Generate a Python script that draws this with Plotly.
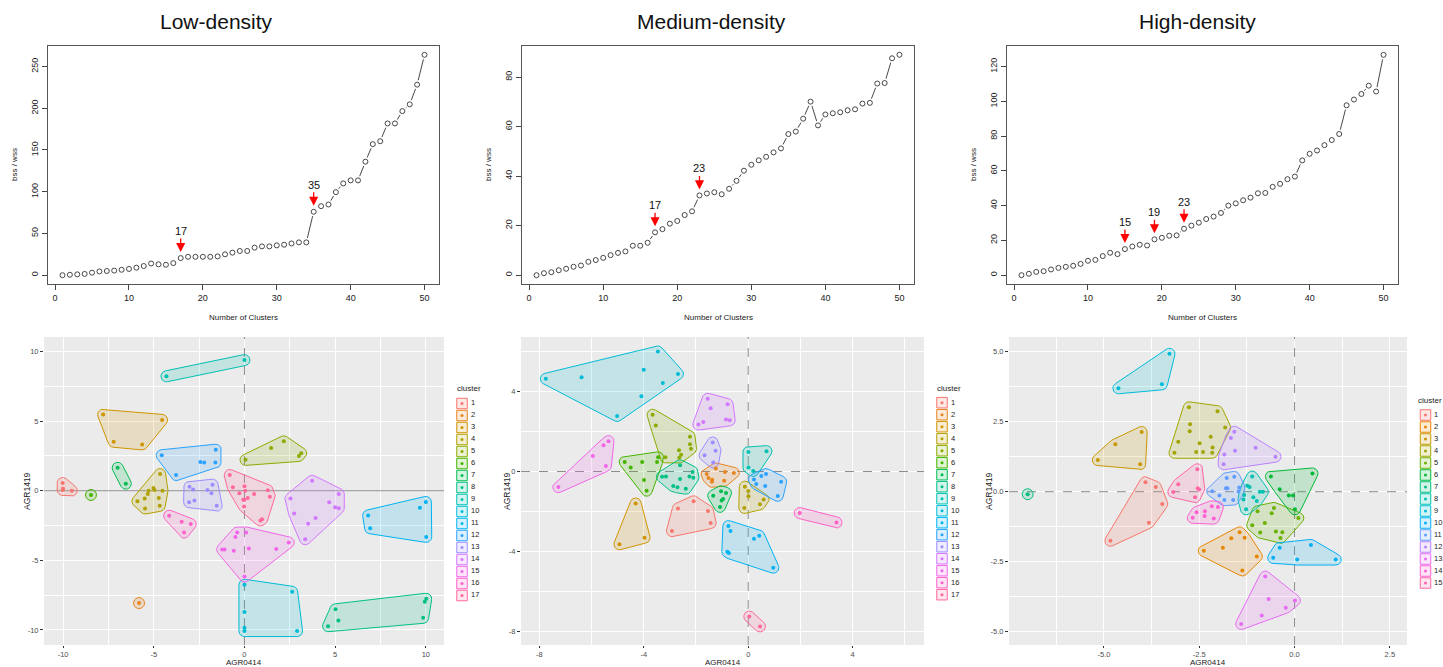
import math
import plotly.graph_objects as go

W, H = 1443, 667
FONT = "Liberation Sans, Arial, sans-serif"

# ---------------- data: elbow curves ----------------
n_clusters = list(range(1, 51))
low_ratio = [0, 0.5, 1, 1.5, 3, 4.5, 5, 5.5, 6.5, 7.5,
             9, 11, 14, 13, 12.5, 14.5, 20.5, 22, 22, 22,
             22, 22.5, 25, 27, 29, 29, 33, 34.5, 34.5, 35.7,
             36.5, 38, 39.3, 39.3, 76, 82.7, 84.7, 99.5, 110, 113.6,
             113.6, 136, 157, 160.5, 181.8, 181.8, 196.6, 204.7, 228.3, 264]
med_ratio = [0, 0.8, 1.2, 2, 2.6, 3.4, 3.9, 5.4, 6.1, 7,
             8.1, 9, 9.6, 11.9, 11.9, 13.1, 17.3, 18.6, 20.8, 21.9,
             24.3, 25.8, 32.2, 33, 33.5, 32.7, 34.9, 38.1, 42.2, 44.6,
             46.4, 47.8, 49.6, 51.2, 57, 58, 63.2, 70.1, 60.5, 64.9,
             65.4, 65.8, 66.6, 67, 69.3, 69.6, 77.4, 77.6, 87.6, 89]
high_ratio = [0, 0.8, 1.9, 2.3, 3.3, 4.2, 4.8, 5.4, 6.5, 8.3,
              8.8, 11, 12.9, 12.1, 15, 16.5, 17.5, 17.1, 20.6, 21.5,
              22.7, 22.9, 26.7, 28.5, 30.2, 32.3, 33.7, 35.8, 40, 41.3,
              43.1, 44.6, 47.1, 47.3, 50.8, 52.5, 55.2, 56.7, 66, 69.8,
              71.7, 74.8, 77.7, 81.2, 97.7, 101, 104.2, 109, 105.6, 126.7]
low_marks = [17, 35]
med_marks = [17, 23]
high_marks = [15, 19, 23]
panel_titles = ["Low-density", "Medium-density", "High-density"]
low_ratio_ticks = [0, 50, 100, 150, 200, 250]
med_ratio_ticks = [0, 20, 40, 60, 80]
high_ratio_ticks = [0, 20, 40, 60, 80, 100, 120]
elbow_xticks = [0, 10, 20, 30, 40, 50]

# ---------------- data: cluster maps (one sublist per cluster) ----------------
low_x = [[-10.02, -10.0, -10.02, -9.52], [-5.81], [-7.79, -7.21, -5.64, -4.54],
         [-4.65, -5.02, -4.96, -5.28, -5.33, -4.52, -4.72, -5.9, -5.5, -4.67, -5.48],
         [0.06, 1.47, 2.17, 3.0, 3.13], [-8.46], [-6.99, -6.54],
         [4.61, 5.02, 5.18, 9.85, 9.94, 10.02], [-4.3, 0.0], [0, 0, 0, 0, 2.63, 2.9],
         [6.82, 6.93, 9.67, 10.0, 10.02], [-4.56, -3.77, -2.43, -2.22, -1.6, -1.58],
         [-3.03, -2.83, -2.04, -1.76, -1.82, -2.76, -3.05, -1.53],
         [2.54, 2.74, 3.73, 3.35, 3.51, 3.92, 4.67, 5.0, 5.2, 5.2],
         [-0.4, -0.5, 0.09, -1.23, -1.1, -0.59, 0.24, 1.75, 2.44, 0.0],
         [-4.15, -3.46, -2.96, -3.33],
         [-0.81, -0.64, 0.0, 0.04, -0.28, 0.18, 0.53, 1.29, 1.4, -0.07, 0.0, -0.02, 0.88, 0.97]]
low_y = [[0.55, 0.15, 0.05, 0.0], [-8.07], [5.46, 3.51, 3.32, 5.08],
         [1.19, 0.19, 0.05, 0.0, -0.24, 0.0, -0.52, -0.76, -0.57, -1.09, -1.28],
         [2.21, 3.06, 3.54, 2.49, 2.68], [-0.31], [1.64, 0.5],
         [-9.73, -8.52, -9.32, -9.13, -7.97, -7.76], [8.21, 9.37], [-6.76, -8.71, -9.85, -10.08, -7.26, -10.08],
         [-1.78, -2.7, -1.23, -0.81, -3.32], [2.54, 1.12, 2.06, 2.02, 2.02, 2.94],
         [0.28, 0.09, 0.05, 0.43, -0.19, -0.71, -0.83, -1.09],
         [-0.57, -1.64, 0.71, -3.49, -2.37, -1.97, -0.83, -1.19, -1.26, -0.24],
         [-3.01, -3.32, -3.01, -4.22, -4.22, -4.32, -4.15, -4.18, -3.72, -6.17],
         [-1.8, -2.23, -2.4, -3.01],
         [1.12, 0.24, 0.31, 0.0, -0.19, -0.52, -0.24, 0.02, -0.43, -0.66, -0.66, -1.14, -2.14, -2.06]]

med_x = [[-2.92, -2.69, -2.09, -1.54, -1.44],
         [-1.59, -1.52, -1.39, -1.38, -1.24, -0.89, -0.92, -0.55],
         [-4.93, -4.31, -3.97],
         [-0.13, 0.0, 0.01, -0.15, 0.45, 0.59],
         [-3.66, -3.54, -3.17, -2.65, -2.57, -2.64, -2.23, -2.23, -2.19],
         [-4.73, -4.5, -4.06, -3.99, -3.89, -3.49, -3.45],
         [-1.34, -1.04, -0.85, -1.02, -0.96, -1.08],
         [-3.3, -3.15, -2.87, -2.71, -2.61, -2.61, -2.39, -2.25, -2.13, -2.10],
         [0.01, 0.01, 0.19, 0.7],
         [-7.75, -6.38, -5.02, -4.09, -4.0, -3.46, -3.27, -2.69],
         [-0.76, -0.68, -0.8, -0.74, 0.22, 0.42, 0.96],
         [0.22, 0.31, 0.5, 0.65, 0.68, 1.13, 1.26],
         [-1.67, -1.36, -1.25, -1.34],
         [-1.91, -1.72, -1.55, -1.44, -0.79, -0.85, -0.71],
         [-7.27, -5.95, -5.54, -5.45, -5.35],
         [1.97, 3.38],
         [0.04, 0.45]]
med_y = [[-2.98, -1.85, -1.49, -1.97, -2.58],
         [-0.13, -0.33, -0.51, -0.41, 0.15, -0.03, -0.46, -0.07],
         [-3.64, -1.6, -3.31],
         [-0.76, -0.98, -1.24, -1.82, -1.64, -1.4],
         [2.84, 2.3, 0.71, 1.06, 0.84, 0.69, 1.74, 1.36, 1.14],
         [0.48, 0.2, 0.48, -0.43, -0.96, 0.48, 0.71],
         [-1.21, -0.99, -1.07, -1.45, -1.37, -1.77],
         [-0.26, -0.25, -0.73, -0.79, 0.31, -0.38, -0.86, -0.25, -0.02, -0.31],
         [0.98, 0.2, 0.03, 1.02],
         [4.64, 4.71, 2.78, 3.77, 5.09, 6.0, 4.43, 4.88],
         [-2.73, -2.98, -4.02, -4.08, -3.36, -3.22, -4.81],
         [-0.4, -0.63, -0.23, -0.73, -0.13, -1.22, -0.51],
         [0.81, 1.45, 1.04, 0.45],
         [2.35, 2.48, 3.64, 3.17, 3.37, 2.6, 2.56],
         [-0.78, 0.78, 1.31, 0.28, 1.52],
         [-2.08, -2.55],
         [-7.26, -7.75]]

high_x = [[-4.83, -3.91, -3.82, -3.64, -3.47],
          [-2.38, -1.88, -1.66, -1.44, -1.31, -0.99, -1.37],
          [-5.16, -4.7, -4.05, -4.01],
          [-3.15, -3.05, -2.77, -2.75, -2.74, -2.58, -2.49, -2.4, -2.2, -2.16, -2.15, -2.02, -1.82],
          [-0.97, -0.6, -0.54, -1.11, -0.78, -0.9, -0.49, -0.32, -0.37, 0.1],
          [-0.62, 0.47, -0.39, -0.15, -0.04, 0.01],
          [-7.0],
          [-1.24, -1.18, -1.11, -1.32, -1.34, -1.27, -1.08, -0.99, -0.91, -0.83],
          [-4.62, -3.48, -3.28],
          [-0.39, 0.43, -0.56, 0.07, 1.08],
          [-1.78, -1.58, -1.45, -1.8, -1.76, -2.16, -1.97, -1.84, -1.61, -1.47],
          [-1.86, -1.84, -1.67, -1.58, -1.56, -1.02, -0.5],
          [-1.4, -0.86, -0.77, -0.68, -0.23, 0.01],
          [-2.57, -2.35, -2.17, -2.01, -2.67, -2.36, -2.12],
          [-2.55, -3.05, -3.18, -2.54, -2.5, -2.61]]
high_y = [[-1.75, 0.34, -1.11, 0.17, -0.44],
          [-2.11, -2.0, -1.66, -1.45, -1.64, -2.31, -2.81],
          [1.13, 1.69, 0.98, 2.13],
          [1.39, 1.78, 3.01, 2.16, 2.41, 1.42, 1.73, 1.42, 1.96, 1.39, 1.58, 2.87, 2.29],
          [-0.7, -0.77, -0.58, -1.2, -1.12, -1.46, -1.42, -1.45, -1.65, -0.94],
          [0.54, 0.65, 0.09, -0.14, -0.14, -0.63],
          [-0.09],
          [0.21, 0.17, 0.54, -0.12, -0.28, -0.63, -0.2, -0.33, 0.0, 0.0],
          [3.69, 3.83, 4.92],
          [-2.0, -1.9, -2.36, -2.42, -2.42],
          [0.49, 0.53, 0.15, 0.12, 0.12, 0.02, -0.14, -0.3, -0.3, 0.01],
          [0.98, 1.33, 1.92, 2.14, 1.46, 1.57, 1.25],
          [-4.72, -4.42, -3.03, -3.83, -4.14, -3.88],
          [-0.73, -0.7, -0.52, -0.55, -0.93, -0.87, -0.96],
          [0.8, 0.27, -0.01, 0.12, 0.08, -0.2]]

low_map_ticks = [-10, -5, 0, 5, 10]
low_map_ticktext = ["-10", "-5", "0", "5", "10"]
med_map_ticks = [-8, -4, 0, 4]
med_map_ticktext = ["-8", "-4", "0", "4"]
high_map_xticks = [-5, -2.5, 0, 2.5]
high_map_xticktext = ["-5.0", "-2.5", "0.0", "2.5"]
high_map_yticks = [-5, -2.5, 0, 2.5, 5]
high_map_yticktext = ["-5.0", "-2.5", "0.0", "2.5", "5.0"]

# ---------------- layout geometry (pixels) ----------------
TOP_X = [(48, 439), (522, 914), (1007, 1398)]
TOP_Y = (46, 284)
BOT_X = [(44, 444), (521, 924), (1009, 1407)]
BOT_Y = (337, 645)
TOP_XR = [-0.96, 51.96]
TOP_YR = [[-10.56, 274.6], [-3.56, 92.56], [-5.07, 131.8]]
BOT_XR = [[-11.05, 11.0], [-8.7, 6.73], [-7.49, 2.95]]
BOT_YR = [[-11.08, 11.03], [-8.68, 6.73], [-5.47, 5.52]]


def hcl_hex(h, c=100.0, l=65.0):
    hr = math.radians(h)
    u, v = c * math.cos(hr), c * math.sin(hr)
    Xn, Yn, Zn = 95.047, 100.0, 108.883
    un = 4 * Xn / (Xn + 15 * Yn + 3 * Zn)
    vn = 9 * Yn / (Xn + 15 * Yn + 3 * Zn)
    Y = Yn * ((l + 16) / 116) ** 3 if l > 8 else Yn * l / 903.3
    up = u / (13 * l) + un
    vp = v / (13 * l) + vn
    X = Y * 9 * up / (4 * vp)
    Z = Y * (12 - 3 * up - 20 * vp) / (4 * vp)
    X, Y, Z = X / 100, Y / 100, Z / 100
    r = 3.2404542 * X - 1.5371385 * Y - 0.4985314 * Z
    g = -0.9692660 * X + 1.8760108 * Y + 0.0415560 * Z
    b = 0.0556434 * X - 0.2040259 * Y + 1.0572252 * Z

    def gam(t):
        t = 12.92 * t if t <= 0.0031308 else 1.055 * t ** (1 / 2.4) - 0.055
        return int(round(min(max(t, 0), 1) * 255))
    return (gam(r), gam(g), gam(b))


def hue_pal(n):
    return [hcl_hex(15 + 360 * i / n) for i in range(n)]


def rgb(c, a=None):
    if a is None:
        return "rgb(%d,%d,%d)" % c
    return "rgba(%d,%d,%d,%.3f)" % (c[0], c[1], c[2], a)


def convex_hull(pts):
    pts = sorted(set(pts))
    if len(pts) <= 2:
        return pts

    def cross(o, a, b):
        return (a[0] - o[0]) * (b[1] - o[1]) - (a[1] - o[1]) * (b[0] - o[0])
    lower, upper = [], []
    for p in pts:
        while len(lower) >= 2 and cross(lower[-2], lower[-1], p) <= 0:
            lower.pop()
        lower.append(p)
    for p in reversed(pts):
        while len(upper) >= 2 and cross(upper[-2], upper[-1], p) <= 0:
            upper.pop()
        upper.append(p)
    return lower[:-1] + upper[:-1]


def rounded_hull(xs, ys, rx, ry, n=36):
    pts = []
    for x, y in zip(xs, ys):
        for k in range(n):
            a = 2 * math.pi * k / n
            pts.append((x + rx * math.cos(a), y + ry * math.sin(a)))
    h = convex_hull(pts)
    h.append(h[0])
    return [p[0] for p in h], [p[1] for p in h]


def b_segments(xs, ys, xr, yr, wpx, hpx, gap=4.5):
    sx = wpx / (xr[1] - xr[0])
    sy = hpx / (yr[1] - yr[0])
    ox, oy = [], []
    for i in range(len(xs) - 1):
        ddx, ddy = xs[i + 1] - xs[i], ys[i + 1] - ys[i]
        d = math.hypot(ddx * sx, ddy * sy)
        if d <= 2 * gap + 0.8:
            continue
        f = gap / d
        ox += [xs[i] + ddx * f, xs[i + 1] - ddx * f, None]
        oy += [ys[i] + ddy * f, ys[i + 1] - ddy * f, None]
    return ox, oy


def dom_x(a, b):
    return [a / W, b / W]


def dom_y(top, bottom):
    return [1 - bottom / H, 1 - top / H]


def paper_text(x, y, text, size, angle=0, color="#222"):
    return dict(x=x / W, y=1 - y / H, xref="paper", yref="paper", text=text, showarrow=False,
                xanchor="center", yanchor="middle", textangle=angle,
                font=dict(size=size, color=color))


fig = go.Figure()
layout = dict(width=W, height=H, margin=dict(l=0, r=0, t=0, b=0),
              paper_bgcolor="white", plot_bgcolor="rgba(0,0,0,0)", showlegend=False,
              font=dict(family=FONT, color="#222"))
annotations = []
shapes = []

# ---------------- top row: elbow plots ----------------
curves = [low_ratio, med_ratio, high_ratio]
marks = [low_marks, med_marks, high_marks]
ratio_ticks = [low_ratio_ticks, med_ratio_ticks, high_ratio_ticks]
title_x = [216, 711, 1197]
ytitle_x = [15, 489, 974]
for i in range(3):
    ax = "x" if i == 0 else "x%d" % (i + 1)
    ay = "y" if i == 0 else "y%d" % (i + 1)
    kx = "xaxis" if i == 0 else "xaxis%d" % (i + 1)
    ky = "yaxis" if i == 0 else "yaxis%d" % (i + 1)
    x0, x1 = TOP_X[i]
    sx, sy = b_segments(n_clusters, curves[i], TOP_XR, TOP_YR[i], x1 - x0, TOP_Y[1] - TOP_Y[0])
    fig.add_trace(go.Scatter(x=sx, y=sy, mode="lines", xaxis=ax, yaxis=ay,
                             line=dict(color="#333", width=0.9), hoverinfo="skip"))
    fig.add_trace(go.Scatter(x=n_clusters, y=curves[i], mode="markers", xaxis=ax, yaxis=ay,
                             marker=dict(symbol="circle-open", size=5, color="#333",
                                         line=dict(width=0.9, color="#333"))))
    layout[kx] = dict(domain=dom_x(x0, x1), range=TOP_XR, anchor=ay, tickvals=elbow_xticks,
                      ticks="outside", ticklen=5, tickcolor="#444", showline=True, mirror=True,
                      linecolor="#555", linewidth=1, showgrid=False, zeroline=False,
                      tickfont=dict(size=9, color="#222"))
    layout[ky] = dict(domain=dom_y(*TOP_Y), range=TOP_YR[i], anchor=ax, tickvals=ratio_ticks[i],
                      ticks="outside", ticklen=5, tickcolor="#444", showline=True, mirror=True,
                      linecolor="#555", linewidth=1, showgrid=False, zeroline=False,
                      tickangle=-90, tickfont=dict(size=9, color="#222"))
    for m in marks[i]:
        annotations.append(dict(x=m, y=curves[i][m - 1], xref=ax, yref=ay, text=str(m),
                                showarrow=True, arrowhead=2, arrowsize=1.4, arrowwidth=1.3,
                                arrowcolor="#ff0000", ax=0, ay=-27, standoff=6,
                                font=dict(size=11, color="#111")))
    annotations.append(paper_text(title_x[i], 22, panel_titles[i], 21, color="#111"))
    annotations.append(paper_text((x0 + x1) / 2, 318, "Number of Clusters", 8))
    annotations.append(paper_text(ytitle_x[i], 165, "bss / wss", 8, angle=-90))

# ---------------- bottom row: cluster maps ----------------
maps_x = [low_x, med_x, high_x]
maps_y = [low_y, med_y, high_y]
bx_ticks = [(low_map_ticks, low_map_ticktext), (med_map_ticks, med_map_ticktext),
            (high_map_xticks, high_map_xticktext)]
by_ticks = [(low_map_ticks, low_map_ticktext), (med_map_ticks, med_map_ticktext),
            (high_map_yticks, high_map_yticktext)]
minor_x = [[-7.5, -2.5, 2.5, 7.5], [-6, -2, 2, 6], [-6.25, -3.75, -1.25, 1.25]]
minor_y = [[-7.5, -2.5, 2.5, 7.5], [-6, -2, 2, 6], [-3.75, -1.25, 1.25, 3.75]]
ylab_x = [27, 507, 989]
legend_geo = [(457, 462, 471, 389, 403.5), (937, 942, 951, 389, 402.7), (1418, 1425.5, 1434, 401, 415)]
R_PX = 5.5

for i in range(3):
    n = i + 4
    ax, ay = "x%d" % n, "y%d" % n
    x0, x1 = BOT_X[i]
    xr, yr = BOT_XR[i], BOT_YR[i]
    wpx, hpx = x1 - x0, BOT_Y[1] - BOT_Y[0]
    rx = R_PX * (xr[1] - xr[0]) / wpx
    ry = R_PX * (yr[1] - yr[0]) / hpx
    ncl = len(maps_x[i])
    pal = hue_pal(ncl)
    shapes.append(dict(type="rect", xref=ax + " domain", yref=ay + " domain", x0=0, x1=1, y0=0, y1=1,
                       fillcolor="#EBEBEB", line=dict(width=0), layer="below"))
    fig.add_trace(go.Scatter(x=[0, 0], y=yr, mode="lines", xaxis=ax, yaxis=ay, hoverinfo="skip",
                             line=dict(color="#808080", width=0.9, dash="dash")))
    if i == 0:
        fig.add_trace(go.Scatter(x=xr, y=[0, 0], mode="lines", xaxis=ax, yaxis=ay, hoverinfo="skip",
                                 line=dict(color="#a6a6a6", width=1.2)))
    else:
        fig.add_trace(go.Scatter(x=xr, y=[0, 0], mode="lines", xaxis=ax, yaxis=ay, hoverinfo="skip",
                                 line=dict(color="#808080", width=0.9, dash="dash")))
    for c in range(ncl):
        hx, hy = rounded_hull(maps_x[i][c], maps_y[i][c], rx, ry)
        fig.add_trace(go.Scatter(x=hx, y=hy, mode="lines", fill="toself", xaxis=ax, yaxis=ay,
                                 fillcolor=rgb(pal[c], 0.17), line=dict(color=rgb(pal[c]), width=1),
                                 hoverinfo="skip"))
    for c in range(ncl):
        fig.add_trace(go.Scatter(x=maps_x[i][c], y=maps_y[i][c], mode="markers", xaxis=ax, yaxis=ay,
                                 marker=dict(size=4, color=rgb(pal[c])), name=str(c + 1)))
    layout["xaxis%d" % n] = dict(domain=dom_x(x0, x1), range=xr, anchor=ay,
                                 tickvals=bx_ticks[i][0], ticktext=bx_ticks[i][1],
                                 showgrid=True, gridcolor="white", gridwidth=1.3, zeroline=False,
                                 showline=False, ticks="outside", ticklen=2, tickcolor="#333",
                                 tickfont=dict(size=7.5, color="#4D4D4D"),
                                 minor=dict(tickvals=minor_x[i], showgrid=True, gridcolor="white",
                                            gridwidth=0.7, ticks=""))
    layout["yaxis%d" % n] = dict(domain=dom_y(*BOT_Y), range=yr, anchor=ax,
                                 tickvals=by_ticks[i][0], ticktext=by_ticks[i][1],
                                 showgrid=True, gridcolor="white", gridwidth=1.3, zeroline=False,
                                 showline=False, ticks="outside", ticklen=3, tickcolor="#333",
                                 tickfont=dict(size=7.5, color="#4D4D4D"),
                                 minor=dict(tickvals=minor_y[i], showgrid=True, gridcolor="white",
                                            gridwidth=0.7, ticks=""))
    annotations.append(paper_text((x0 + x1) / 2, 662.5, "AGR0414", 8))
    annotations.append(paper_text(ylab_x[i], (BOT_Y[0] + BOT_Y[1]) / 2, "AGR1419", 8.5, angle=-90))
    tx, kx_, lx, ty, ky0 = legend_geo[i]
    ky = [ky0 + 12 * c for c in range(ncl)]
    fig.add_trace(go.Scatter(x=[tx], y=[ty], mode="text", text=["cluster"], xaxis="x7", yaxis="y7",
                             textposition="middle right", textfont=dict(size=8, color="#222"),
                             hoverinfo="skip"))
    fig.add_trace(go.Scatter(x=[kx_] * ncl, y=ky, mode="markers", xaxis="x7", yaxis="y7",
                             marker=dict(symbol="square", size=10.5,
                                         color=[rgb(p, 0.17) for p in pal],
                                         line=dict(color=[rgb(p) for p in pal], width=1)),
                             hoverinfo="skip"))
    fig.add_trace(go.Scatter(x=[kx_] * ncl, y=ky, mode="markers", xaxis="x7", yaxis="y7",
                             marker=dict(size=3, color=[rgb(p) for p in pal]), hoverinfo="skip"))
    fig.add_trace(go.Scatter(x=[lx] * ncl, y=ky, mode="text", xaxis="x7", yaxis="y7",
                             text=[str(c + 1) for c in range(ncl)], textposition="middle right",
                             textfont=dict(size=7.5, color="#222"), hoverinfo="skip"))

layout["xaxis7"] = dict(domain=[0, 1], range=[0, W], visible=False, anchor="y7")
layout["yaxis7"] = dict(domain=[0, 1], range=[H, 0], visible=False, anchor="x7")
layout["annotations"] = annotations
layout["shapes"] = shapes
fig.update_layout(**layout)
fig.write_html("out.html")
